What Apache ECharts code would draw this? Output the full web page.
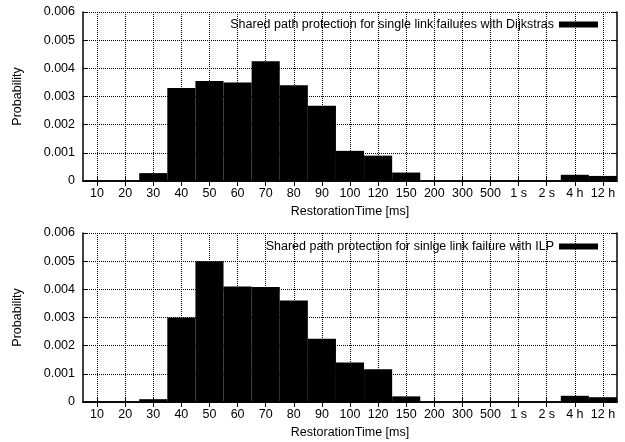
<!DOCTYPE html>
<html>
<head>
<meta charset="utf-8">
<script src="https://cdn.jsdelivr.net/npm/echarts@6/dist/echarts.min.js"></script>
<style>
html,body{margin:0;padding:0;background:#fff;}
#chart{width:625px;height:442px;}
</style>
</head>
<body>
<div id="chart"></div>
<script>
const categories = ['10','20','30','40','50','60','70','80','90','100','120','150','200','300','500','1 s','2 s','4 h','12 h'];
const dijkstraValues = [0,0,0.00028,0.0033,0.00355,0.0035,0.00425,0.0034,0.00267,0.00107,0.0009,0.0003,0,0,0,0,0,0.00022,0.00018];
const ilpValues = [0,0,0.0001,0.003,0.005,0.0041,0.00408,0.0036,0.00225,0.0014,0.00116,0.0002,0,0,0,0,0,0.00022,0.00017];
const dijkstraName = 'Shared path protection for single link failures with Dijkstras';
const ilpName = 'Shared path protection for sinlge link failure with ILP';
const xName = 'RestorationTime [ms]';
const yName = 'Probability';

const FONT = 'Liberation Sans';
const textStyle = {fontFamily: FONT, fontSize: 12.5, color: '#000'};

function xAxes(gridIndex){
  return [
    {
      type: 'category', gridIndex, data: categories, position: 'bottom',
      boundaryGap: true,
      axisLine: {lineStyle: {color: '#000', width: 1.5}},
      axisTick: {show: true, inside: true, length: 5, alignWithLabel: true, lineStyle: {color: '#000'}},
      axisLabel: Object.assign({margin: 6, interval: 0}, textStyle),
      splitLine: {show: true, alignWithLabel: true, interval: 0, lineStyle: {color: '#000', type: [1, 1], width: 1}},
      name: xName, nameLocation: 'middle', nameGap: 24,
      nameTextStyle: textStyle
    },
    {
      type: 'category', gridIndex, data: categories, position: 'top',
      boundaryGap: true,
      axisLine: {lineStyle: {color: '#000', width: 1.5}},
      axisTick: {show: true, inside: true, length: 5, alignWithLabel: true, interval: 0, lineStyle: {color: '#000'}},
      axisLabel: {show: false},
      splitLine: {show: false}
    }
  ];
}
function yAxes(gridIndex){
  return [
    {
      type: 'value', gridIndex, min: 0, max: 0.006, interval: 0.001, position: 'left',
      axisLine: {show: true, lineStyle: {color: '#000', width: 1.5}},
      axisTick: {show: true, inside: true, length: 5, lineStyle: {color: '#000'}},
      axisLabel: Object.assign({margin: 8, formatter: v => v === 0 ? '0' : v.toFixed(3)}, textStyle),
      splitLine: {show: true, lineStyle: {color: '#000', type: [1, 1], width: 1}},
      name: yName, nameLocation: 'middle', nameGap: 59,
      nameTextStyle: textStyle
    },
    {
      type: 'value', gridIndex, min: 0, max: 0.006, interval: 0.001, position: 'right',
      axisLine: {show: true, lineStyle: {color: '#000', width: 1.5}},
      axisTick: {show: true, inside: true, length: 5, lineStyle: {color: '#000'}},
      axisLabel: {show: false},
      splitLine: {show: false}
    }
  ];
}

const chart = echarts.init(document.getElementById('chart'), null, {renderer: 'canvas'});
chart.setOption({
  backgroundColor: '#fff',
  animation: false,
  textStyle: {fontFamily: FONT},
  grid: [
    {left: 83, right: 8, top: 12, height: 169},
    {left: 83, right: 8, top: 233, height: 169}
  ],
  legend: [
    {data: [dijkstraName], right: 22, top: 13, align: 'right', icon: 'rect', itemWidth: 39, itemHeight: 6,
     textStyle: textStyle, itemStyle: {color: '#000'}},
    {data: [ilpName], right: 22, top: 235, align: 'right', icon: 'rect', itemWidth: 39, itemHeight: 6,
     textStyle: textStyle, itemStyle: {color: '#000'}}
  ],
  xAxis: [...xAxes(0), ...xAxes(1)],
  yAxis: [...yAxes(0), ...yAxes(1)],
  series: [
    {name: dijkstraName, type: 'bar', xAxisIndex: 0, yAxisIndex: 0, data: dijkstraValues,
     barWidth: '100%', barCategoryGap: 0, itemStyle: {color: '#000'}, z: 1},
    {name: ilpName, type: 'bar', xAxisIndex: 2, yAxisIndex: 2, data: ilpValues,
     barWidth: '100%', barCategoryGap: 0, itemStyle: {color: '#000'}, z: 1}
  ]
});
</script>
</body>
</html>
